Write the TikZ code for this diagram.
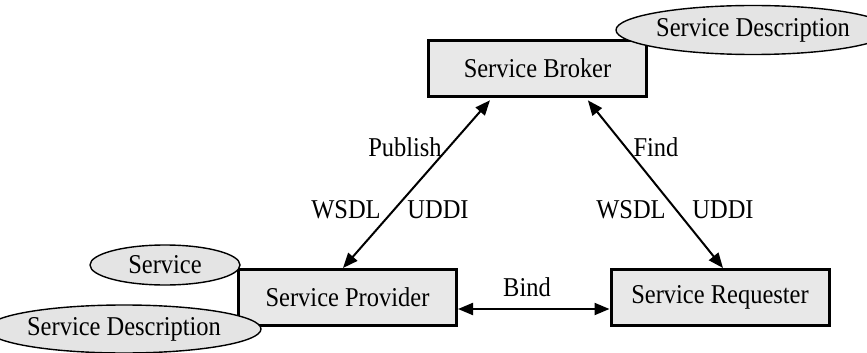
\documentclass[tikz,border=0pt]{standalone}
\usepackage{fontspec}
\setmainfont{Liberation Serif}[FakeStretch=0.9]
\usetikzlibrary{arrows.meta, shapes.geometric}
\definecolor{boxGray}{HTML}{E8E8E8}
\definecolor{ovalGray}{HTML}{E4E4E4}

\begin{document}
\begin{tikzpicture}[x=0.5pt, y=-0.5pt,
  role/.style={draw, line width=1.5pt, fill=boxGray, minimum width=109pt,
               minimum height=28pt, inner sep=0pt, font=\fontsize{13.6}{16}\selectfont},
  artefact/.style={draw, ellipse, line width=0.7pt, fill=ovalGray, inner sep=0pt,
                   font=\fontsize{13.6}{16}\selectfont},
  link/.style={{Triangle[length=7.5pt,width=6pt]}-{Triangle[length=7.5pt,width=6pt]},
               line width=1pt},
  tag/.style={inner sep=0pt, font=\fontsize{13.6}{16}\selectfont},
]
  \useasboundingbox (0,0) rectangle (867,353);

  % the three roles
  \node[role] (broker) at (537.5, 68.5) {Service Broker};
  \node[role] (prov) at (347.5, 297.5) {Service Provider};
  \node[role] (req) at (720, 297.5) {Service Requester};

  % what they hold
  \node[artefact, minimum width=113pt, minimum height=24.5pt] (brokerdesc) at (753, 30) {Service Description};
  \node[artefact, minimum width=75pt, minimum height=20pt] (serv) at (165, 265) {Service};
  \node[artefact, minimum width=114pt, minimum height=24pt] (provdesc) at (124, 329) {Service Description};

  % interactions
  \draw[link, shorten >=1.5pt] ([xshift=-2.25pt]prov.north) -- ([xshift=-22.75pt]broker.south);
  \draw[link, shorten <=1.5pt] ([xshift=24.25pt]broker.south) -- ([xshift=1.5pt]req.north);
  \draw[link] ([yshift=-5.75pt]prov.east) -- ([yshift=-5.75pt]req.west);

  \node[tag] (publish) at (405, 147) {Publish};
  \node[tag] (wsdlL) at (346, 210) {WSDL};
  \node[tag] (uddiL) at (438, 210) {UDDI};
  \node[tag] (find) at (656, 147) {Find};
  \node[tag] (wsdlR) at (631, 210) {WSDL};
  \node[tag] (uddiR) at (723, 210) {UDDI};
  \node[tag] (bind) at (527, 287) {Bind};
\end{tikzpicture}
\end{document}
